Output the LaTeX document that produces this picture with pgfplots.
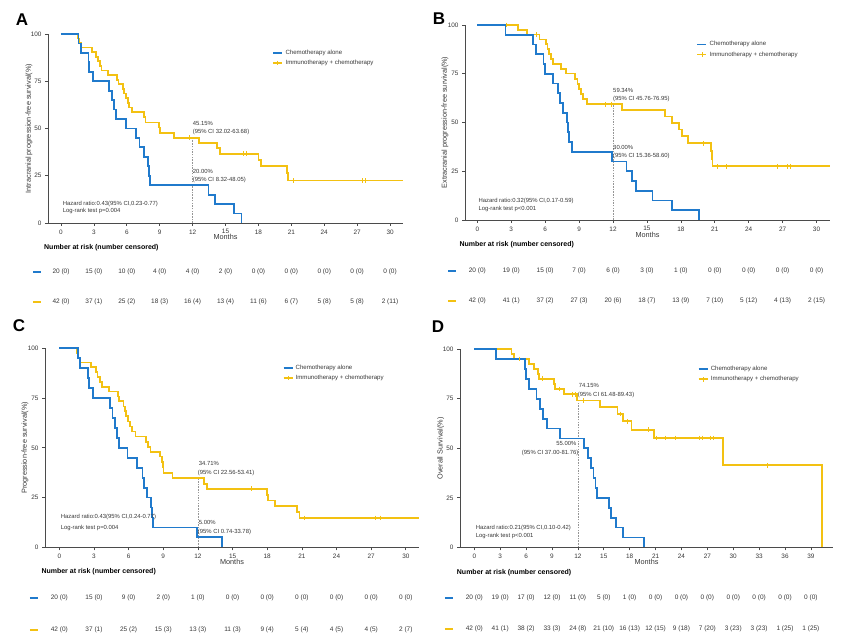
\documentclass[border=0pt]{standalone}
\usepackage{fontspec}
\setmainfont{Liberation Sans}
\usepackage{pgfplots}
\pgfplotsset{compat=1.18}
\definecolor{kmblue}{RGB}{32,122,204}
\definecolor{kmyellow}{RGB}{243,193,18}
\definecolor{axgray}{RGB}{75,75,75}
\definecolor{txtgray}{RGB}{55,55,55}
\definecolor{dashgray}{RGB}{150,150,150}
\newcommand{\fs}[1]{\fontsize{#1}{#1}\selectfont}
\pgfplotsset{
  km/.style={
    scale only axis, clip=false, anchor=south west,
    axis lines=left,
    axis line style={-, draw=axgray, line width=0.8pt},
    tick style={draw=axgray, line width=0.7pt},
    tick align=outside, major tick length=3pt,
    ymin=0, ymax=100, ytick={0,25,50,75,100},
    /pgf/number format/assume math mode=true,
    ticklabel style={font=\fs{6.4}, text=txtgray},
    label style={font=\fs{7.3}, text=txtgray},
    xlabel={Months},
    legend cell align=left,
    legend style={draw=none, fill=none, inner sep=0pt, column sep=1pt, row sep=1.6pt,
      nodes={inner sep=1.3pt}, font=\fs{6.1}, text=txtgray, anchor=north west},
    legend image code/.code={\draw[mark repeat=2,mark phase=2,##1] plot coordinates {(0pt,0pt) (4.5pt,0pt) (9pt,0pt)};},
  },
  kmline/.style={const plot, line width=1.8pt, forget plot},
  censor/.style={only marks, mark=|, mark size=2.4pt, mark options={line width=0.9pt}, forget plot},
  ref12/.style={draw=dashgray, line width=0.6pt, dash pattern=on 1.5pt off 1.2pt, forget plot},
  risk/.style={draw=none, forget plot, nodes near coords, point meta=explicit symbolic,
    nodes near coords align=center,
    every node near coord/.append style={font=\fs{6.5}, text=txtgray, inner sep=0pt}},
  riskbar/.style={line width=2.4pt, forget plot},
  lgb/.style={kmblue, line width=1.7pt},
  lgy/.style={kmyellow, line width=1.7pt, mark=|, mark size=2.2pt, mark options={kmyellow, line width=0.9pt}},
}
\tikzset{
  ann/.style={inner sep=0pt, font=\fs{5.9}, text=txtgray},
  hdr/.style={anchor=west, inner sep=0pt, font=\fs{7}\bfseries, text=black},
  panel/.style={font=\fs{17}\bfseries, text=black, inner sep=0pt},
}
\begin{document}
\begin{tikzpicture}
\path[use as bounding box] (0pt,0pt) rectangle (865pt,-644pt);
\node[panel] at (22pt,-20pt) {A};
\node[panel] at (439pt,-19pt) {B};
\node[panel] at (19pt,-326pt) {C};
\node[panel] at (438pt,-327pt) {D};

% ---------------- Panel A ----------------
\begin{axis}[km, at={(48pt,-223pt)}, width=355pt, height=189pt,
  xmin=-1.185, xmax=31.18, xtick={0,3,...,30},
  ylabel={Intracranial progression-free survival(\%)},
  x label style={at={(axis description cs:0.5,-0.0757)}, anchor=center},
  y label style={at={(axis description cs:-0.0535,0.5)}, anchor=center},
  legend style={at={(axis description cs:0.632,0.924)}}]
\addplot[ref12] coordinates {(12,0) (12,45.15)};
\addplot[kmline, kmyellow] coordinates {(0,100) (1.5,97.6) (1.65,95.2) (1.8,92.9) (2.8,90.5) (3.2,88.0) (3.4,85.6) (3.55,83.1) (3.7,80.7) (4.3,78.3) (5.1,75.8) (5.25,73.4) (5.65,70.9) (5.75,68.5) (5.9,66.0) (6.08,63.6) (6.2,61.1) (6.5,58.6) (7.55,56.0) (7.7,53.2) (8.95,50.5) (9.05,47.8) (10.3,45.15) (12.6,42.3) (14.2,39.5) (14.5,36.7) (18.0,33.4) (18.2,30.0) (20.6,26.3) (20.7,22.5) (31.18,22.5)};
\addplot[censor, kmyellow] coordinates {(11.7,45.15) (16.6,36.7) (16.9,36.7) (21.2,22.5) (27.5,22.5) (27.8,22.5)};
\addplot[kmline, kmblue] coordinates {(0,100) (1.6,95) (1.8,90) (2.5,85) (2.55,80) (2.95,75) (4.4,70) (4.65,65) (4.85,60) (5.0,55) (5.9,50) (6.85,45) (7.15,40) (7.6,35) (7.95,30) (8.05,25) (8.15,20) (13.45,15) (14.05,10) (15.8,5) (16.45,0)};
\addlegendimage{lgb}
\addlegendentry{Chemotherapy alone}
\addlegendimage{lgy}
\addlegendentry{Immunotherapy + chemotherapy}
\node[ann, anchor=west] at (axis cs:12,52.5) {45.15\%};
\node[ann, anchor=west] at (axis cs:12,47.9) {(95\% CI 32.02-63.68)};
\node[ann, anchor=west] at (axis cs:12,27.3) {20.00\%};
\node[ann, anchor=west] at (axis cs:12,22.5) {(95\% CI 8.32-48.05)};
\node[ann, anchor=west] at (axis cs:0.15,10.2) {Hazard ratio:0.43(95\% CI,0.23-0.77)};
\node[ann, anchor=west] at (axis cs:0.15,6.2) {Log-rank test p=0.004};
\node[hdr] at (axis cs:-1.55,-13.2) {Number at risk (number censored)};
\addplot[riskbar, kmblue] coordinates {(-2.55,-25.9) (-1.82,-25.9)};
\addplot[riskbar, kmyellow] coordinates {(-2.55,-41.8) (-1.82,-41.8)};
\addplot[risk] coordinates {(0,-25.9) [20 (0)] (3,-25.9) [15 (0)] (6,-25.9) [10 (0)] (9,-25.9) [4 (0)] (12,-25.9) [4 (0)] (15,-25.9) [2 (0)] (18,-25.9) [0 (0)] (21,-25.9) [0 (0)] (24,-25.9) [0 (0)] (27,-25.9) [0 (0)] (30,-25.9) [0 (0)]};
\addplot[risk] coordinates {(0,-41.8) [42 (0)] (3,-41.8) [37 (1)] (6,-41.8) [25 (2)] (9,-41.8) [18 (3)] (12,-41.8) [16 (4)] (15,-41.8) [13 (4)] (18,-41.8) [11 (6)] (21,-41.8) [6 (7)] (24,-41.8) [5 (8)] (27,-41.8) [5 (8)] (30,-41.8) [2 (11)]};
\end{axis}

% ---------------- Panel B ----------------
\begin{axis}[km, at={(465pt,-220pt)}, width=365pt, height=195pt,
  xmin=-1.09, xmax=31.19, xtick={0,3,...,30},
  ylabel={Extracranial progression-free survival(\%)},
  x label style={at={(axis description cs:0.5,-0.077)}, anchor=center},
  y label style={at={(axis description cs:-0.0548,0.5)}, anchor=center},
  legend style={at={(axis description cs:0.634,0.923)}}]
\addplot[ref12] coordinates {(12,0) (12,59.34)};
\addplot[kmline, kmyellow] coordinates {(0,100) (3.6,97.6) (4.4,95.1) (5.5,92.6) (6.05,90.1) (6.2,87.6) (6.35,85.1) (6.5,82.6) (6.7,80.1) (7.4,77.6) (7.85,75.1) (8.67,72.5) (8.85,69.9) (9.0,67.3) (9.2,64.7) (9.35,62.0) (9.67,59.34) (12.76,56.4) (16.6,53.1) (17.2,49.7) (17.8,46.4) (18.1,42.9) (18.65,39.3) (20.7,35.4) (20.75,31.4) (20.8,27.5) (31.19,27.5)};
\addplot[censor, kmyellow] coordinates {(2.6,100) (5.2,95.1) (11.3,59.34) (11.9,59.34) (20.0,39.3) (21.2,27.5) (22.0,27.5) (26.5,27.5) (27.4,27.5) (27.7,27.5)};
\addplot[kmline, kmblue] coordinates {(0,100) (2.5,95) (4.9,90) (5.2,85) (5.85,80) (5.95,75) (6.7,70) (7.15,65) (7.3,60) (7.6,55) (7.9,50) (8.0,45) (8.13,40) (8.4,35) (11.94,30) (13.2,25) (13.7,20) (14.0,15) (15.5,10) (17.2,5) (19.6,0)};
\addlegendimage{lgb}
\addlegendentry{Chemotherapy alone}
\addlegendimage{lgy}
\addlegendentry{Immunotherapy + chemotherapy}
\node[ann, anchor=west] at (axis cs:12,66.3) {59.34\%};
\node[ann, anchor=west] at (axis cs:12,61.9) {(95\% CI 45.76-76.95)};
\node[ann, anchor=west] at (axis cs:12,37.1) {30.00\%};
\node[ann, anchor=west] at (axis cs:12,32.6) {(95\% CI 15.36-58.60)};
\node[ann, anchor=west] at (axis cs:0.09,9.7) {Hazard ratio:0.32(95\% CI,0.17-0.59)};
\node[ann, anchor=west] at (axis cs:0.09,5.6) {Log-rank test p<0.001};
\node[hdr] at (axis cs:-1.59,-12.8) {Number at risk (number censored)};
\addplot[riskbar, kmblue] coordinates {(-2.56,-26.2) (-1.88,-26.2)};
\addplot[riskbar, kmyellow] coordinates {(-2.56,-41.5) (-1.88,-41.5)};
\addplot[risk] coordinates {(0,-26.2) [20 (0)] (3,-26.2) [19 (0)] (6,-26.2) [15 (0)] (9,-26.2) [7 (0)] (12,-26.2) [6 (0)] (15,-26.2) [3 (0)] (18,-26.2) [1 (0)] (21,-26.2) [0 (0)] (24,-26.2) [0 (0)] (27,-26.2) [0 (0)] (30,-26.2) [0 (0)]};
\addplot[risk] coordinates {(0,-41.5) [42 (0)] (3,-41.5) [41 (1)] (6,-41.5) [37 (2)] (9,-41.5) [27 (3)] (12,-41.5) [20 (6)] (15,-41.5) [18 (7)] (18,-41.5) [13 (9)] (21,-41.5) [7 (10)] (24,-41.5) [5 (12)] (27,-41.5) [4 (13)] (30,-41.5) [2 (15)]};
\end{axis}

% ---------------- Panel C ----------------
\begin{axis}[km, at={(45pt,-547.3pt)}, width=374pt, height=199pt,
  xmin=-1.24, xmax=31.14, xtick={0,3,...,30},
  ylabel={Progression-free survival(\%)},
  x label style={at={(axis description cs:0.5,-0.072)}, anchor=center},
  y label style={at={(axis description cs:-0.0535,0.5)}, anchor=center},
  legend style={at={(axis description cs:0.635,0.924)}}]
\addplot[ref12] coordinates {(12,0) (12,34.71)};
\addplot[kmline, kmyellow] coordinates {(0,100) (1.5,97.6) (1.65,95.2) (1.8,92.9) (2.75,90.5) (3.15,88.0) (3.3,85.6) (3.5,83.1) (3.7,80.7) (4.3,78.3) (5.1,75.8) (5.2,73.4) (5.55,70.8) (5.7,68.3) (5.8,65.8) (5.95,63.2) (6.1,60.7) (6.3,58.2) (6.6,55.7) (7.5,53.0) (7.7,50.4) (7.9,47.9) (8.72,45.6) (8.87,42.9) (8.95,40.1) (9.02,37.4) (9.8,34.71) (12.5,32.0) (12.8,29.4) (17.96,26.4) (18.05,23.5) (18.7,20.6) (20.6,17.6) (20.8,14.7) (31.14,14.7)};
\addplot[censor, kmyellow] coordinates {(16.66,29.4) (21.2,14.7) (27.4,14.7) (27.8,14.7)};
\addplot[kmline, kmblue] coordinates {(0,100) (1.6,95) (1.8,90) (2.5,85) (2.55,80) (2.95,75) (4.4,70) (4.6,65) (4.85,60) (5.0,55) (5.2,50) (5.9,45) (6.7,40) (7.2,35) (7.35,30) (7.6,25) (7.95,20) (8.0,15) (8.1,10) (11.95,5) (14.1,0)};
\addlegendimage{lgb}
\addlegendentry{Chemotherapy alone}
\addlegendimage{lgy}
\addlegendentry{Immunotherapy + chemotherapy}
\node[ann, anchor=west] at (axis cs:12.07,41.9) {34.71\%};
\node[ann, anchor=west] at (axis cs:11.98,37.5) {(95\% CI 22.56-53.41)};
\node[ann, anchor=west] at (axis cs:12.07,12.4) {5.00\%};
\node[ann, anchor=west] at (axis cs:11.98,7.9) {(95\% CI 0.74-33.78)};
\node[ann, anchor=west] at (axis cs:0.12,15.1) {Hazard ratio:0.43(95\% CI,0.24-0.77)};
\node[ann, anchor=west] at (axis cs:0.12,9.5) {Log-rank test p=0.004};
\node[hdr] at (axis cs:-1.56,-12.4) {Number at risk (number censored)};
\addplot[riskbar, kmblue] coordinates {(-2.54,-25.5) (-1.82,-25.5)};
\addplot[riskbar, kmyellow] coordinates {(-2.54,-41.6) (-1.82,-41.6)};
\addplot[risk] coordinates {(0,-25.5) [20 (0)] (3,-25.5) [15 (0)] (6,-25.5) [9 (0)] (9,-25.5) [2 (0)] (12,-25.5) [1 (0)] (15,-25.5) [0 (0)] (18,-25.5) [0 (0)] (21,-25.5) [0 (0)] (24,-25.5) [0 (0)] (27,-25.5) [0 (0)] (30,-25.5) [0 (0)]};
\addplot[risk] coordinates {(0,-41.6) [42 (0)] (3,-41.6) [37 (1)] (6,-41.6) [25 (2)] (9,-41.6) [15 (3)] (12,-41.6) [13 (3)] (15,-41.6) [11 (3)] (18,-41.6) [9 (4)] (21,-41.6) [5 (4)] (24,-41.6) [4 (5)] (27,-41.6) [4 (5)] (30,-41.6) [2 (7)]};
\end{axis}

% ---------------- Panel D ----------------
\begin{axis}[km, at={(460pt,-547.3pt)}, width=373pt, height=198pt,
  xmin=-1.66, xmax=41.56, xtick={0,3,...,39},
  ylabel={Overall Survival(\%)},
  x label style={at={(axis description cs:0.5,-0.0727)}, anchor=center},
  y label style={at={(axis description cs:-0.0517,0.5)}, anchor=center},
  legend style={at={(axis description cs:0.637,0.922)}}]
\addplot[ref12] coordinates {(12,0) (12,74.15)};
\addplot[kmline, kmyellow] coordinates {(0,100) (4.3,97.6) (4.6,95.1) (6.3,92.6) (6.9,90.1) (7.4,87.6) (7.45,85.1) (9.2,82.5) (9.34,79.9) (10.4,77.3) (11.93,74.15) (14.56,70.8) (16.6,67.3) (17.26,63.6) (18.2,59.4) (20.8,55.2) (28.8,41.4) (40.3,0)};
\addplot[censor, kmyellow] coordinates {(5.2,95.1) (7.9,85.1) (9.85,79.9) (11.4,77.3) (11.7,77.3) (12.7,74.15) (16.9,67.3) (17.7,63.6) (20.2,59.4) (21.1,55.2) (22.2,55.2) (23.3,55.2) (26.1,55.2) (26.45,55.2) (27.4,55.2) (27.7,55.2) (34.0,41.4)};
\addplot[kmline, kmblue] coordinates {(0,100) (2.5,95) (5.87,90) (5.95,85) (6.3,80) (7.2,75) (7.6,70) (8.0,65) (8.4,60) (9.92,55) (12.7,50) (13.2,45) (13.5,40) (13.8,35) (14.05,30) (14.17,25) (15.6,20) (15.8,15) (16.4,10) (17.26,5) (19.65,0)};
\addlegendimage{lgb}
\addlegendentry{Chemotherapy alone}
\addlegendimage{lgy}
\addlegendentry{Immunotherapy + chemotherapy}
\node[ann, anchor=west] at (axis cs:12.08,81.5) {74.15\%};
\node[ann, anchor=west] at (axis cs:11.97,76.9) {(95\% CI 61.48-89.43)};
\node[ann, anchor=east] at (axis cs:11.85,52.5) {55.00\%};
\node[ann, anchor=east] at (axis cs:12.08,47.5) {(95\% CI 37.00-81.76)};
\node[ann, anchor=west] at (axis cs:0.15,9.6) {Hazard ratio:0.21(95\% CI,0.10-0.42)};
\node[ann, anchor=west] at (axis cs:0.15,5.9) {Log-rank test p<0.001};
\node[hdr] at (axis cs:-2.04,-13.0) {Number at risk (number censored)};
\addplot[riskbar, kmblue] coordinates {(-3.40,-25.6) (-2.43,-25.6)};
\addplot[riskbar, kmyellow] coordinates {(-3.40,-41.3) (-2.43,-41.3)};
\addplot[risk] coordinates {(0,-25.6) [20 (0)] (3,-25.6) [19 (0)] (6,-25.6) [17 (0)] (9,-25.6) [12 (0)] (12,-25.6) [11 (0)] (15,-25.6) [5 (0)] (18,-25.6) [1 (0)] (21,-25.6) [0 (0)] (24,-25.6) [0 (0)] (27,-25.6) [0 (0)] (30,-25.6) [0 (0)] (33,-25.6) [0 (0)] (36,-25.6) [0 (0)] (39,-25.6) [0 (0)]};
\addplot[risk] coordinates {(0,-41.3) [42 (0)] (3,-41.3) [41 (1)] (6,-41.3) [38 (2)] (9,-41.3) [33 (3)] (12,-41.3) [24 (8)] (15,-41.3) [21 (10)] (18,-41.3) [16 (13)] (21,-41.3) [12 (15)] (24,-41.3) [9 (18)] (27,-41.3) [7 (20)] (30,-41.3) [3 (23)] (33,-41.3) [3 (23)] (36,-41.3) [1 (25)] (39,-41.3) [1 (25)]};
\end{axis}
\end{tikzpicture}
\end{document}
